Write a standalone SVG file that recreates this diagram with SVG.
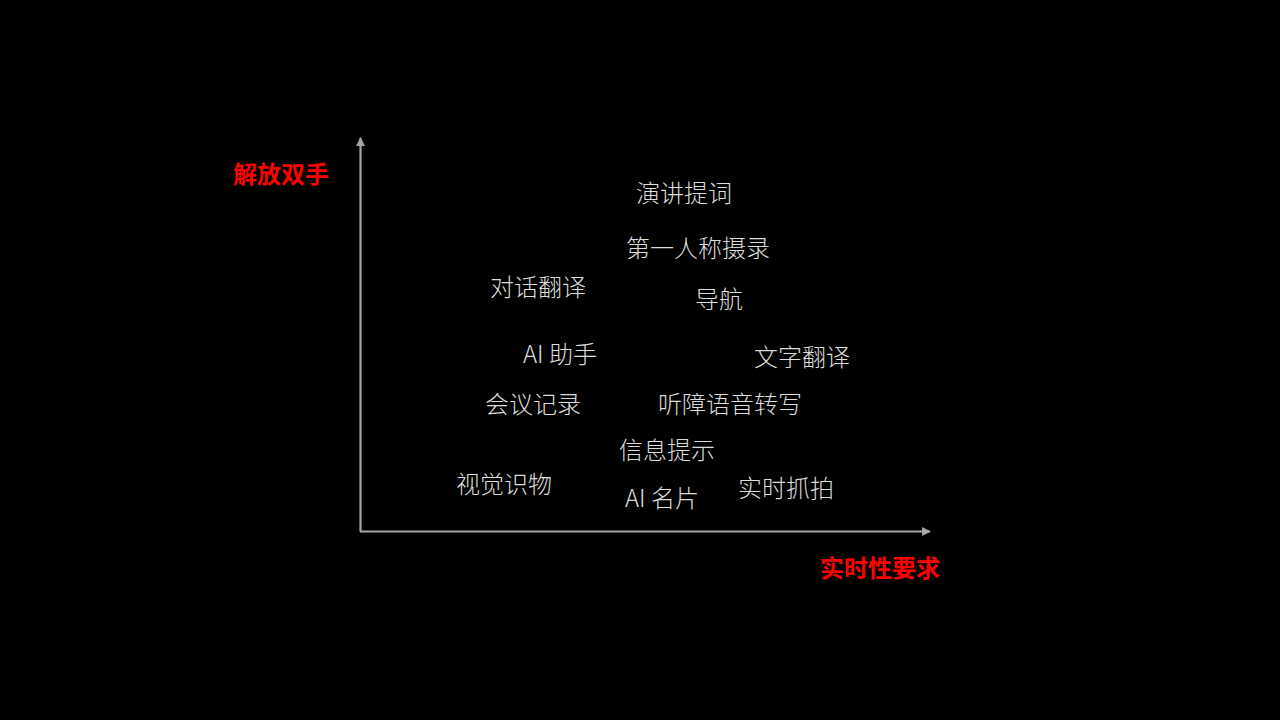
<svg xmlns="http://www.w3.org/2000/svg" width="1280" height="720" viewBox="0 0 1280 720">
<style>
.lbl{font-family:"Noto Sans CJK SC","Noto Sans",sans-serif;font-size:24px;font-weight:300;fill:#dcdcdc}
.ax{font-family:"Noto Sans CJK SC","Noto Sans",sans-serif;font-size:24px;font-weight:700;fill:#ff0000}
.axis{stroke:#a6a6a6;stroke-width:2.2;fill:none}
</style>
<defs>
<marker id="arr" viewBox="0 0 10 10" refX="9" refY="5" markerWidth="4" markerHeight="4" orient="auto" markerUnits="strokeWidth">
<path d="M0,0 L10,5 L0,10 Z" fill="#a6a6a6"/>
</marker>
</defs>
<rect width="1280" height="720" fill="#000"/>
<g id="connectors">
<path class="axis" d="M360.5,531.5 L360.5,138" marker-end="url(#arr)"/>
<path class="axis" d="M360,531.5 L930,531.5" marker-end="url(#arr)"/>
</g>
<g id="axis-y"><text class="ax" x="233" y="183">解放双手</text></g>
<g id="axis-x"><text class="ax" x="820" y="577">实时性要求</text></g>
<g id="n1"><text class="lbl" x="636" y="202">演讲提词</text></g>
<g id="n2"><text class="lbl" x="626" y="257">第一人称摄录</text></g>
<g id="n3"><text class="lbl" x="490" y="296">对话翻译</text></g>
<g id="n4"><text class="lbl" x="695" y="308">导航</text></g>
<g id="n5"><text class="lbl" x="523" y="363">AI 助手</text></g>
<g id="n6"><text class="lbl" x="754" y="366">文字翻译</text></g>
<g id="n7"><text class="lbl" x="485" y="413">会议记录</text></g>
<g id="n8"><text class="lbl" x="658" y="413">听障语音转写</text></g>
<g id="n9"><text class="lbl" x="619" y="459">信息提示</text></g>
<g id="n10"><text class="lbl" x="456" y="493">视觉识物</text></g>
<g id="n11"><text class="lbl" x="625" y="507">AI 名片</text></g>
<g id="n12"><text class="lbl" x="738" y="497">实时抓拍</text></g>
</svg>
